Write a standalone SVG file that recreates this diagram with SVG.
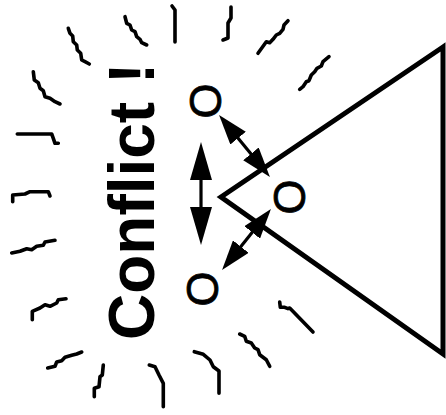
<svg xmlns="http://www.w3.org/2000/svg" width="446" height="415" viewBox="0 0 446 415">
<style>
.sq{fill:none;stroke:#000;stroke-width:3.6;stroke-linecap:round;stroke-linejoin:round}
.oo{font-family:"Liberation Sans",Arial,sans-serif;font-size:45px;fill:#000;stroke:#000;stroke-width:0.8;text-anchor:middle}
.ttl{font-family:"Liberation Sans",Arial,sans-serif;font-size:64px;font-weight:bold;fill:#000}
.ar{stroke:#000;stroke-width:3.2;fill:none}
</style>
<defs>
<marker id="hb" viewBox="0 0 38 22" refX="28" refY="11" markerWidth="38" markerHeight="22" markerUnits="userSpaceOnUse" orient="auto-start-reverse"><path d="M0,0 L38,11 L0,22 Z" fill="#000"/></marker>
<marker id="hs" viewBox="0 0 30 20" refX="20" refY="10" markerWidth="30" markerHeight="20" markerUnits="userSpaceOnUse" orient="auto-start-reverse"><path d="M0,0 L30,10 L0,20 Z" fill="#000"/></marker>
</defs>
<rect width="446" height="415" fill="#fff"/>
<g id="squiggles">
<polyline class="sq" points="172,6 175,10 175,42"/>
<polyline class="sq" points="231,7 231,18 228,23 228,38 223,40"/>
<polyline class="sq" points="125,16.7 126.7,23.3 130,25 131.7,30 135,31.7 136.7,36.7 140,39.3 141.7,42.7 146.7,45"/>
<polyline class="sq" points="68.3,28.3 70,33.3 72.7,36 73.3,41.7 76.7,45 77.3,50 80.7,53.3 81.7,60 85,61.7 89.3,64"/>
<polyline class="sq" points="33.3,71.7 34.3,80 38.3,82.7 40,88.3 43.3,90.7 45,96.7 50,98.3 55,101.7 60,104"/>
<polyline class="sq" points="17.3,134 51.7,134 53.3,138.3 55,143.3 58.3,143.3"/>
<polyline class="sq" points="12.7,201.7 12.7,195 25,194 30,191.7 48.3,191.7 50,196"/>
<polyline class="sq" points="258,53.3 266.3,41.7 269.7,42.7 273,39.3 276.3,35 279.7,33.3 283,29.3 284,25 288,20.7"/>
<polyline class="sq" points="299.7,89.3 303,86.7 306.3,81.7 309,80.7 311.3,75 314.7,71.7 317,68.3 321.3,66 323,61.7 329,56.7"/>
<polyline class="sq" points="11.7,253 20,251.3 26.7,248.7 31.7,249.7 36.7,246.3 43.3,245.3 45,242 55,240.3"/>
<polyline class="sq" points="32.3,319.7 32.3,311.3 40,308 45,304.7 50,306.3 56.7,303 58.3,299.7 66,298.7"/>
<polyline class="sq" points="47.7,368 55,366.3 56.7,362 61.7,360.7 65,357.3 71.7,355.3 76.7,354 81.7,352"/>
<polyline class="sq" points="94.3,396.7 94.3,388.3 99,386.7 100,376.7 102.3,375 103.3,365"/>
<polyline class="sq" points="149.3,365 155,366.7 159,375 163.3,383.3 163.3,406.7"/>
<polyline class="sq" points="194.3,351.7 203.3,354.3 210,360 213.3,366.7 219,371 219,393.3"/>
<polyline class="sq" points="279.7,302 280.3,307.3 284.7,307.3 288,308.7 289.7,308 313,332"/>
<polyline class="sq" points="239.7,334 244.7,336.3 246.3,341.3 251.3,343 254.7,348 258,349.7 259.7,354.7 266.3,359.7 269.7,366.3"/>
</g>
<g id="title"><text class="ttl" transform="translate(154,340) rotate(-90)" x="0" y="0">Conflict !</text></g>
<g id="triangle"><polygon points="443,47 221,197 443,354" fill="none" stroke="#000" stroke-width="5" stroke-linejoin="miter"/></g>
<g id="o1"><text class="oo" transform="translate(205,101) rotate(-90)" x="0" y="16">O</text></g>
<g id="o2"><text class="oo" transform="translate(289,197) rotate(-90)" x="0" y="16">O</text></g>
<g id="o3"><text class="oo" transform="translate(202,289) rotate(-90)" x="0" y="16">O</text></g>
<g id="connectors">
<line class="ar" x1="201" y1="152" x2="201" y2="235" marker-start="url(#hb)" marker-end="url(#hb)"/>
<line class="ar" x1="225.4" y1="122.7" x2="263.6" y2="169.3" marker-start="url(#hs)" marker-end="url(#hs)"/>
<line class="ar" x1="264.7" y1="216.8" x2="228.3" y2="262.2" marker-start="url(#hs)" marker-end="url(#hs)"/>
</g>
</svg>
